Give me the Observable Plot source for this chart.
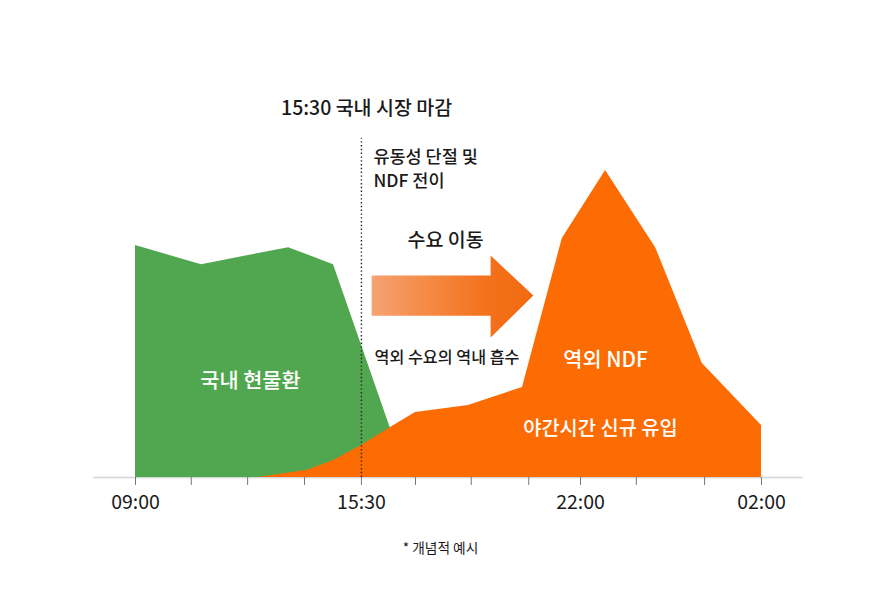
<!DOCTYPE html>
<html>
<head>
<meta charset="utf-8">
<script src="https://cdn.jsdelivr.net/npm/d3@7"></script>
<script src="https://cdn.jsdelivr.net/npm/@observablehq/plot@0.6"></script>
<style>
  html, body { margin: 0; padding: 0; background: #fff; }
  svg { display: block; }
</style>
</head>
<body>
<div id="chart"></div>
<script>
// x in "slot" units (09:00 = 0, 02:00 = 11), y in relative volume (0-100)
const tickPos    = [0, 0.98, 1.97, 2.97, 3.97, 4.92, 5.9, 6.91, 7.82, 8.8, 10.0, 11];
const tickLabels = ["09:00", "", "", "", "15:30", "", "", "", "22:00", "", "", "02:00"];

const domesticX = [0, 1.16, 2.69, 3.48, 4.78];
const domesticY = [68.2, 62.6, 67.6, 62.6, 0];

const ndfX = [2.16, 3.02, 3.48, 3.97, 4.48, 4.92, 5.85, 6.80, 7.50, 8.26, 9.14, 9.96, 11];
const ndfY = [0, 2.1, 5.0, 9.4, 14.7, 19.1, 21.2, 26.5, 70.3, 90.3, 67.6, 33.5, 15.3];

const closeX = 3.97;
const closeTop = 99.7;
const axisExtent = [-0.74, 11.74];

// arrow outline
const arrowX = [4.15, 6.24, 6.24, 6.99, 6.24, 6.24, 4.15];
const arrowY = [59.4, 59.4, 65.3, 53.5, 41.2, 47.6, 47.6];

// annotations
const titleText = "15:30 국내 시장 마감";
const titlePos = [4.06, 108.5];
const noteLines = ["유동성 단절 및", "NDF 전이"];
const noteX = [4.18, 4.18];
const noteY = [94.1, 87.1];
const moveText = "수요 이동";
const movePos = [5.45, 69.7];
const absorbText = "역외 수요의 역내 흡수";
const absorbPos = [4.2, 35.3];
const areaLabels = ["국내 현물환", "역외 NDF", "야간시간 신규 유입"];
const areaLabelX = [2.02, 8.26, 8.17];
const areaLabelY = [28.2, 34.4, 14.4];
const captionText = "* 개념적 예시";
const captionPos = [5.36, -20.9];

const domestic = domesticX.map((x, i) => ({x, y: domesticY[i]}));
const ndf = ndfX.map((x, i) => ({x, y: ndfY[i]}));
const arrow = arrowX.map((x, i) => ({x, y: arrowY[i]}));
const notes = noteLines.map((t, i) => ({t, x: noteX[i], y: noteY[i]}));
const areaLbl = areaLabels.map((t, i) => ({t, x: areaLabelX[i], y: areaLabelY[i]}));
const tickMap = new Map(tickPos.map((p, i) => [p, tickLabels[i]]));

const defs = () => {
  const d = d3.create("svg:defs");
  const g = d.append("linearGradient").attr("id", "arrowGrad")
    .attr("x1", "0").attr("x2", "1").attr("y1", "0").attr("y2", "0");
  g.append("stop").attr("offset", "0").attr("stop-color", "#f6a273");
  g.append("stop").attr("offset", "0.35").attr("stop-color", "#f48a45");
  g.append("stop").attr("offset", "0.7").attr("stop-color", "#f3721c");
  g.append("stop").attr("offset", "1").attr("stop-color", "#f26a10");
  return d.node();
};

const font = "'Noto Sans CJK KR', 'Noto Sans', sans-serif";

const chart = Plot.plot({
  width: 882,
  height: 597,
  marginLeft: 135,
  marginRight: 121,
  marginTop: 137,
  marginBottom: 120,
  style: {fontFamily: font, background: "#fff", color: "#1a1a1a"},
  x: {domain: [0, 11], label: null},
  y: {domain: [0, 100], axis: null},
  marks: [
    defs,
    Plot.ruleY([0], {x1: axisExtent[0], x2: axisExtent[1], stroke: "#d4d4d4", strokeWidth: 1.5}),
    Plot.areaY(domestic, {x: "x", y: "y", fill: "#51a750"}),
    Plot.areaY(ndf, {x: "x", y: "y", fill: "#fc6c03"}),
    Plot.line(arrow, {x: "x", y: "y", fill: "url(#arrowGrad)", stroke: "none", curve: "linear-closed"}),
    Plot.ruleX([closeX], {y1: 0, y2: closeTop, stroke: "#222", strokeWidth: 1.4, strokeDasharray: "1.4,2.4"}),
    Plot.axisX({ticks: tickPos, tickFormat: d => tickMap.get(d) ?? "", tickSize: 8, tickPadding: 10,
      fontSize: 19.5, stroke: "#777", fill: "#1a1a1a"}),
    Plot.text([titleText], {x: titlePos[0], y: titlePos[1], text: d => d, fontSize: 19.5, fontWeight: 500, fill: "#1a1a1a"}),
    Plot.text(notes, {x: "x", y: "y", text: "t", textAnchor: "start", fontSize: 17.5, fontWeight: 500, fill: "#1a1a1a"}),
    Plot.text([moveText], {x: movePos[0], y: movePos[1], text: d => d, fontSize: 19.5, fontWeight: 500, fill: "#1a1a1a"}),
    Plot.text([absorbText], {x: absorbPos[0], y: absorbPos[1], text: d => d, textAnchor: "start", fontSize: 16.2, fontWeight: 500, fill: "#1a1a1a"}),
    Plot.text(areaLbl.slice(0, 2), {x: "x", y: "y", text: "t", fontSize: 20.8, fontWeight: 500, fill: "#ffffff"}),
    Plot.text(areaLbl.slice(2), {x: "x", y: "y", text: "t", fontSize: 19.8, fontWeight: 500, fill: "#ffffff"}),
    Plot.text([captionText], {x: captionPos[0], y: captionPos[1], text: d => d, fontSize: 13.7, fill: "#1a1a1a"})
  ]
});

document.getElementById("chart").appendChild(chart);
</script>
</body>
</html>
